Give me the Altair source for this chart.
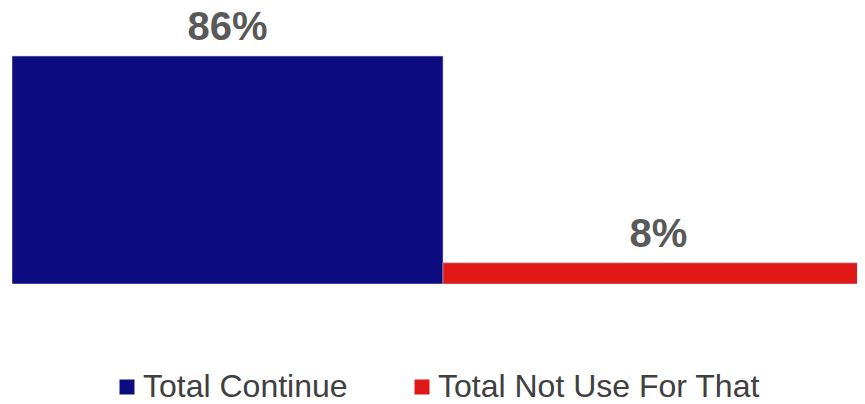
import altair as alt
import pandas as pd

categories = ["Total Continue", "Total Not Use For That"]
values = [0.86, 0.08]
labels = ["86%", "8%"]
colors = ["#0c0c80", "#e01818"]

df = pd.DataFrame({"cat": categories, "value": values, "label": labels})

x = alt.X("cat:N", axis=None, sort=categories,
          scale=alt.Scale(paddingInner=0, paddingOuter=0, range=[0, 862]))
y = alt.Y("value:Q", axis=None, scale=alt.Scale(domain=[0, 1], nice=False, zero=True))

bars = alt.Chart(df).mark_bar(stroke="#b8b8d8", strokeWidth=0.6, clip=True).encode(
    x=x,
    y=y,
    color=alt.Color(
        "cat:N",
        scale=alt.Scale(domain=categories, range=colors),
        legend=alt.Legend(
            title=None,
            orient="none",
            legendX=99,
            legendY=352,
            direction="horizontal",
            columns=2,
            padding=0,
            symbolType="square",
            symbolSize=225,
            symbolStrokeWidth=0,
            labelFont="Liberation Sans",
            labelFontSize=32,
            labelColor="#404040",
            labelOffset=0,
            labelLimit=400,
            columnPadding=58,
        ),
    ),
)

text = alt.Chart(df).mark_text(
    baseline="alphabetic", dy=-16, font="Liberation Sans", fontSize=40,
    fontWeight="bold", color="#595959"
).encode(x=x, y=y, text="label:N")

chart = (bars + text).properties(
    width=845, height=265,
    autosize=alt.AutoSizeParams(type="none"),
    padding={"left": 4, "top": 11, "right": 0, "bottom": 120},
).configure_view(stroke=None)

chart.save("out.html", embed_options={"renderer": "svg", "actions": False})
